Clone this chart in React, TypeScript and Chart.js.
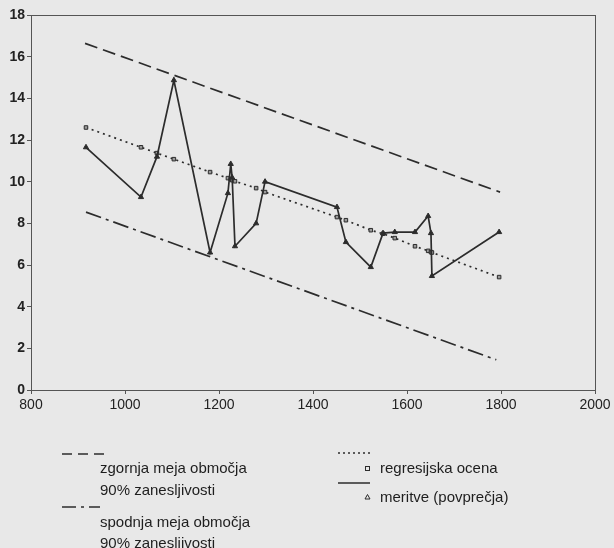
import React, { useEffect, useRef } from "react";
import { Chart, registerables } from "chart.js";

Chart.register(...registerables);

// Altitude (m) of each measured location
const altitudes = [917, 1034, 1068, 1104, 1181, 1219, 1225, 1228, 1234, 1279, 1298, 1451, 1470, 1523, 1549, 1574, 1617, 1645, 1651, 1653, 1796];
// meritve (povprečja)
const measured = [11.65, 9.26, 11.2, 14.87, 6.6, 9.45, 10.85, 10.2, 6.9, 8.0, 10.0, 8.78, 7.1, 5.9, 7.53, 7.58, 7.58, 8.35, 7.53, 5.47, 7.58];
// regresijska ocena
const regression = [12.6, 11.65, 11.37, 11.08, 10.46, 10.17, 10.12, 10.07, 10.02, 9.69, 9.5, 8.3, 8.15, 7.67, 7.5, 7.29, 6.9, 6.68, 6.62, 6.6, 5.42];
// zgornja / spodnja meja območja 90% zanesljivosti (end points)
const upperX = [915, 1798];
const upperY = [16.64, 9.5];
const lowerX = [917, 1790];
const lowerY = [8.54, 1.45];

const xTicks = [800, 1000, 1200, 1400, 1600, 1800, 2000];
const yTicks = [0, 2, 4, 6, 8, 10, 12, 14, 16, 18];

const INK = "#2c2c2c";
const BG = "#e8e8e8";
const FONT = "'Liberation Sans', Arial, sans-serif";

const zip = (xs: number[], ys: number[]) => xs.map((x, i) => ({ x, y: ys[i] }));

const bgPlugin = {
  id: "bg",
  beforeDraw(chart: any) {
    const { ctx, width, height } = chart;
    ctx.save();
    ctx.fillStyle = BG;
    ctx.fillRect(0, 0, width, height);
    ctx.restore();
  },
};

const framePlugin = {
  id: "frame",
  afterDraw(chart: any) {
    const { ctx, chartArea: a } = chart;
    ctx.save();
    ctx.strokeStyle = "#555";
    ctx.lineWidth = 1;
    ctx.strokeRect(Math.round(a.left) + 0.5, Math.round(a.top) + 0.5, Math.round(a.right - a.left), Math.round(a.bottom - a.top));
    ctx.restore();
  },
};

const legendPlugin = {
  id: "customLegend",
  afterDraw(chart: any) {
    const { ctx } = chart;
    ctx.save();
    ctx.strokeStyle = INK;
    ctx.fillStyle = "#1e1e1e";
    ctx.lineWidth = 1.5;
    const line = (x1: number, x2: number, y: number, dash: number[]) => {
      ctx.beginPath();
      ctx.setLineDash(dash);
      ctx.moveTo(x1, y);
      ctx.lineTo(x2, y);
      ctx.stroke();
      ctx.setLineDash([]);
    };
    line(62, 108, 454, [10, 6]);
    line(62, 100, 507, [14, 5, 3, 5]);
    line(338, 370, 453, [2, 3]);
    line(338, 370, 483, [] as number[]);

    ctx.font = "15px " + FONT;
    ctx.textBaseline = "middle";
    ctx.textAlign = "left";
    ctx.fillText("zgornja meja območja", 100, 469);
    ctx.fillText("90% zanesljivosti", 100, 491);
    ctx.fillText("spodnja meja območja", 100, 523);
    ctx.fillText("90% zanesljivosti", 100, 544);
    ctx.fillText("regresijska ocena", 380, 469);
    ctx.fillText("meritve (povprečja)", 380, 498);

    // markers
    ctx.lineWidth = 1;
    ctx.strokeRect(365.5, 466.5, 4, 4);
    ctx.beginPath();
    ctx.moveTo(367.5, 494.5);
    ctx.lineTo(370, 499);
    ctx.lineTo(365, 499);
    ctx.closePath();
    ctx.stroke();
    ctx.restore();
  },
};

export default function App() {
  const ref = useRef<HTMLCanvasElement>(null);

  useEffect(() => {
    document.body.style.margin = "0";
    document.body.style.background = BG;
    if (!ref.current) return;
    const chart = new Chart(ref.current, {
      type: "scatter",
      data: {
        datasets: [
          {
            label: "meritve (povprečja)",
            data: zip(altitudes, measured),
            showLine: true,
            borderColor: INK,
            backgroundColor: INK,
            borderWidth: 1.7,
            pointStyle: "triangle",
            pointRadius: 3,
            pointBorderWidth: 1,
            order: 0,
          },
          {
            label: "regresijska ocena",
            data: zip(altitudes, regression),
            showLine: true,
            borderColor: INK,
            borderDash: [2, 4],
            borderWidth: 1.7,
            backgroundColor: "#9a9a9a",
            pointStyle: "rect",
            pointRadius: 2.5,
            pointBorderWidth: 1,
            pointBorderColor: INK,
            order: 1,
          },
          {
            label: "zgornja meja",
            data: zip(upperX, upperY),
            showLine: true,
            borderColor: INK,
            borderDash: [13, 6],
            borderWidth: 1.7,
            pointRadius: 0,
            order: 2,
          },
          {
            label: "spodnja meja",
            data: zip(lowerX, lowerY),
            showLine: true,
            borderColor: INK,
            borderDash: [16, 5, 3, 5],
            borderWidth: 1.7,
            pointRadius: 0,
            order: 3,
          },
        ],
      },
      options: {
        responsive: false,
        animation: false,
        layout: { padding: { top: 15, right: 19, left: 0, bottom: 0 } },
        plugins: { legend: { display: false }, tooltip: { enabled: false } },
        scales: {
          x: {
            type: "linear",
            min: 800,
            max: 2000,
            afterFit: (s: any) => {
              s.height = 158;
            },
            afterBuildTicks: (s: any) => {
              s.ticks = xTicks.map((v) => ({ value: v }));
            },
            ticks: {
              font: { size: 14, family: FONT },
              color: "#222",
              padding: 3,
              maxRotation: 0,
              callback: (v: any) => String(v),
            },
            grid: { display: true, drawOnChartArea: false, drawTicks: true, tickLength: 4, color: "#555", tickColor: "#555" },
            border: { display: true, color: "#555", width: 1 },
          },
          y: {
            type: "linear",
            min: 0,
            max: 18,
            afterFit: (s: any) => {
              s.width = 31;
            },
            afterBuildTicks: (s: any) => {
              s.ticks = yTicks.map((v) => ({ value: v }));
            },
            ticks: {
              font: { size: 14, family: FONT, weight: "bold" },
              color: "#222",
              padding: 2,
              callback: (v: any) => String(v),
            },
            grid: { display: true, drawOnChartArea: false, drawTicks: true, tickLength: 4, color: "#555", tickColor: "#555" },
            border: { display: true, color: "#555", width: 1 },
          },
        },
      },
      plugins: [bgPlugin, framePlugin, legendPlugin],
    } as any);
    return () => chart.destroy();
  }, []);

  return <canvas ref={ref} width={614} height={548} style={{ display: "block" }} />;
}
